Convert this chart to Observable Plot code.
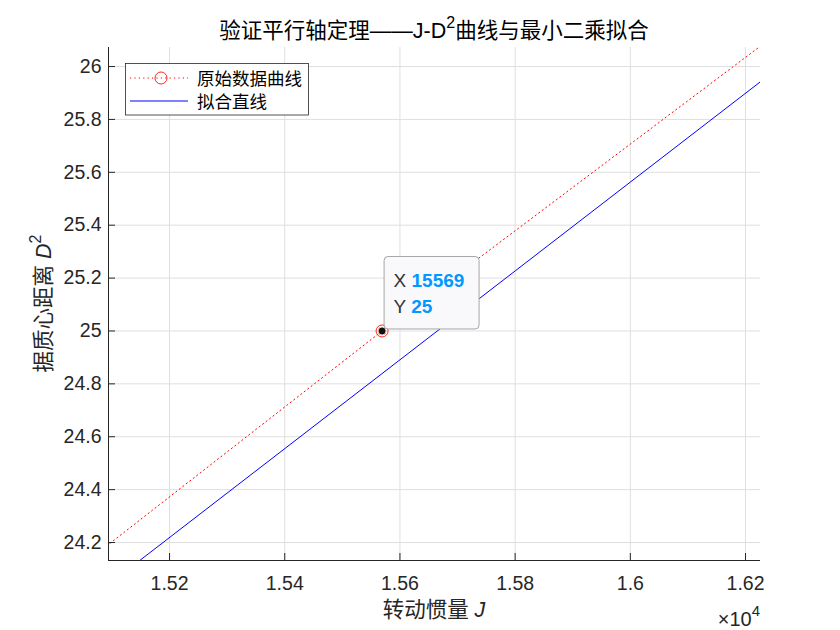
<!DOCTYPE html>
<html>
<head>
<meta charset="utf-8">
<script src="https://cdn.jsdelivr.net/npm/d3@7"></script>
<script src="https://cdn.jsdelivr.net/npm/@observablehq/plot@0.6"></script>
<style>
  html, body { margin: 0; padding: 0; background: #fff; }
  #chart svg { display: block; }
</style>
</head>
<body>
<div id="chart"></div>
<script>
// ---- data ----
const rawJ = [14416, 15569, 16813];        // 原始数据 J
const rawD2 = [23.04, 25, 27.04];          // 原始数据 D^2
const fitJ = [15000, 16300];               // 拟合直线端点 J
const fitD2 = [23.883, 26.067];            // 拟合直线端点 D^2
const tipJ = [15569];
const tipD2 = [25];
const xTicks = [15200, 15400, 15600, 15800, 16000, 16200];
const yTicks = [24.2, 24.4, 24.6, 24.8, 25, 25.2, 25.4, 25.6, 25.8, 26];
const xDomain = [15094, 16226];
const yDomain = [24.132, 26.072];

const rawData = rawJ.map((j, i) => ({ j, d: rawD2[i] }));
const fitData = fitJ.map((j, i) => ({ j, d: fitD2[i] }));
const tipData = tipJ.map((j, i) => ({ j, d: tipD2[i] }));

const FONT = "'Liberation Sans', 'Noto Sans CJK SC', sans-serif";
const AX = "#262626";

const chart = Plot.plot({
  width: 840,
  height: 630,
  marginLeft: 108,
  marginRight: 80,
  marginTop: 47,
  marginBottom: 70,
  style: { fontFamily: FONT, fontSize: "19.5px", color: AX, background: "#fff" },
  x: { domain: xDomain, label: null },
  y: { domain: yDomain, label: null },
  marks: [
    Plot.gridX(xTicks, { stroke: "#dfdfdf", strokeOpacity: 1 }),
    Plot.gridY(yTicks, { stroke: "#dfdfdf", strokeOpacity: 1 }),
    Plot.line(fitData, { x: "j", y: "d", stroke: "#0000ff", strokeWidth: 1, clip: true }),
    Plot.line(rawData, { x: "j", y: "d", stroke: "#ff0000", strokeWidth: 1, strokeDasharray: "1.2,3.2", clip: true }),
    Plot.dot(rawData, { x: "j", y: "d", r: 6, stroke: "#ff2a1a", fill: "none", strokeWidth: 1, clip: true }),
    Plot.ruleY([yDomain[0]], { stroke: AX, strokeWidth: 1 }),
    Plot.ruleX([xDomain[0]], { stroke: AX, strokeWidth: 1 }),
    Plot.axisX(xTicks, { tickSize: 7, dy: -7, stroke: AX, tickFormat: () => "" }),
    Plot.axisY(yTicks, { tickSize: 7, dx: 7, stroke: AX, tickFormat: () => "" }),
    Plot.axisX(xTicks, { tickSize: 0, tickPadding: 16, fontSize: 19.5, fill: AX,
      tickFormat: d => String(+(d / 1e4).toFixed(2)), label: null }),
    Plot.axisY(yTicks, { tickSize: 0, tickPadding: 7, fontSize: 19.5, fill: AX,
      tickFormat: d => String(+d.toFixed(1)), label: null }),
    Plot.dot(tipData, { x: "j", y: "d", r: 4, fill: "#111", stroke: "#f4c8b8", strokeWidth: 1, className: "tipdot" })
  ]
});

document.getElementById("chart").appendChild(chart);

const svg = d3.select(chart);
const sx = chart.scale("x"), sy = chart.scale("y");
const pLeft = sx.apply(xDomain[0]), pRight = sx.apply(xDomain[1]);
const pTop = sy.apply(yDomain[1]), pBottom = sy.apply(yDomain[0]);
const cx = (pLeft + pRight) / 2, cy = (pTop + pBottom) / 2;

// title
const title = svg.append("text")
  .attr("x", cx).attr("y", 38).attr("text-anchor", "middle")
  .attr("font-family", FONT).attr("font-size", 21.5).attr("fill", "#000");
title.append("tspan").text("验证平行轴定理——J-D");
title.append("tspan").attr("font-size", 16).attr("dy", -10).text("2");
title.append("tspan").attr("dy", 10).text("曲线与最小二乘拟合");

// x label
const xl = svg.append("text")
  .attr("x", cx).attr("y", 617).attr("text-anchor", "middle")
  .attr("font-family", FONT).attr("font-size", 21.5).attr("fill", AX);
xl.append("tspan").text("转动惯量 ");
xl.append("tspan").attr("font-style", "italic").text("J");

// y label
const yl = svg.append("text")
  .attr("transform", `translate(51,${cy}) rotate(-90)`).attr("text-anchor", "middle")
  .attr("font-family", FONT).attr("font-size", 21.5).attr("fill", AX);
yl.append("tspan").text("据质心距离 ");
yl.append("tspan").attr("font-style", "italic").text("D");
yl.append("tspan").attr("font-size", 16).attr("dy", -10).text("2");

// x10^4 exponent
const ex = svg.append("text")
  .attr("x", pRight).attr("y", 626).attr("text-anchor", "end")
  .attr("font-family", FONT).attr("font-size", 20).attr("fill", AX);
ex.append("tspan").text("×10");
ex.append("tspan").attr("font-size", 15).attr("dy", -10).text("4");

// legend
const lg = svg.append("g").attr("text-anchor", "start");
lg.append("rect").attr("x", 125.5).attr("y", 63.5).attr("width", 183).attr("height", 51.5)
  .attr("fill", "#fff").attr("stroke", AX).attr("stroke-width", 0.8);
lg.append("line").attr("x1", 130).attr("x2", 188).attr("y1", 78).attr("y2", 78)
  .attr("stroke", "#ff0000").attr("stroke-dasharray", "1.2,3.2");
lg.append("circle").attr("cx", 161).attr("cy", 78).attr("r", 6)
  .attr("fill", "none").attr("stroke", "#ff2a1a");
lg.append("line").attr("x1", 130).attr("x2", 188).attr("y1", 101).attr("y2", 101)
  .attr("stroke", "#0000ff");
lg.append("text").attr("x", 197).attr("y", 84.5).attr("font-family", FONT)
  .attr("font-size", 17.5).attr("fill", "#000").text("原始数据曲线");
lg.append("text").attr("x", 197).attr("y", 107.5).attr("font-family", FONT)
  .attr("font-size", 17.5).attr("fill", "#000").text("拟合直线");

// data tip
const px = sx.apply(tipJ[0]), py = sy.apply(tipD2[0]);
const tip = svg.append("g").attr("text-anchor", "start");
tip.append("rect").attr("x", px + 2.5).attr("y", py - 74).attr("width", 95).attr("height", 72.5)
  .attr("rx", 4).attr("fill", "#f9f9fc").attr("stroke", "#a6a6a6").attr("stroke-width", 1);
const t1 = tip.append("text").attr("x", px + 12).attr("y", py - 43)
  .attr("font-family", FONT).attr("font-size", 19);
t1.append("tspan").attr("fill", "#333").text("X ");
t1.append("tspan").attr("fill", "#0099ff").attr("font-weight", "bold").text(String(tipJ[0]));
const t2 = tip.append("text").attr("x", px + 12).attr("y", py - 17)
  .attr("font-family", FONT).attr("font-size", 19);
t2.append("tspan").attr("fill", "#333").text("Y ");
t2.append("tspan").attr("fill", "#0099ff").attr("font-weight", "bold").text(String(tipD2[0]));
// bring the tip marker above the box
const tipDot = chart.querySelector("g.tipdot");
if (tipDot) chart.appendChild(tipDot);
</script>
</body>
</html>
